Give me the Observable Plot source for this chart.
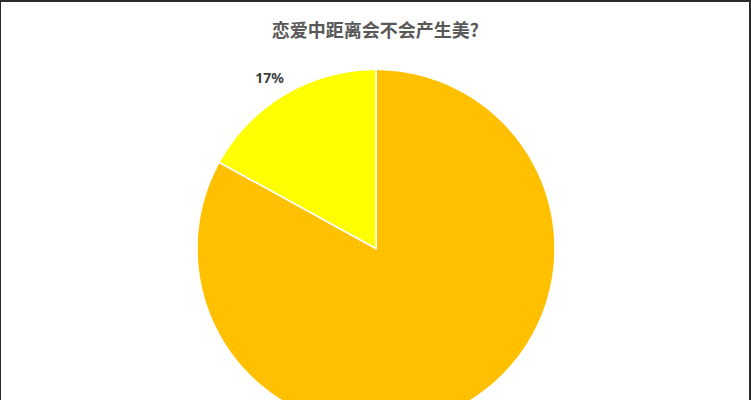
<!DOCTYPE html>
<html>
<head>
<meta charset="utf-8">
<script src="https://cdn.jsdelivr.net/npm/d3@7"></script>
<script src="https://cdn.jsdelivr.net/npm/@observablehq/plot@0.6"></script>
<style>
  html, body { margin: 0; padding: 0; background: #fff; }
  #wrap { position: relative; width: 751px; height: 400px; overflow: hidden; background: #fff;
          font-family: "Noto Sans CJK SC", "Noto Sans", sans-serif; }
  #title { position: absolute; left: 0; top: 0; width: 751px; height: 55px; line-height: 58px;
           text-align: center; font-size: 18px; font-weight: bold; color: #595959; }
  #chart { position: absolute; left: 0; top: 55px; }
  #border { position: absolute; left: 0; top: 0; width: 751px; height: 400px; box-sizing: border-box;
            border-top: 2px solid #2b2b2b; border-left: 1px solid #2b2b2b; border-right: 2px solid #2b2b2b;
            pointer-events: none; }
</style>
</head>
<body>
<div id="wrap">
  <div id="title">恋爱中距离会不会产生美?</div>
  <div id="chart"></div>
  <div id="border"></div>
</div>
<script>
const categories = ["会", "不会"];
const values = [83, 17];
const colors = ["#FFC000", "#FFFF00"];
const labels = ["83%", "17%"];
// only the 17% label is visible in the picture (the other one lies below its lower edge)
const shownLabels = ["17%"];

const pie = d3.pie().sort(null).startAngle(0).endAngle(2 * Math.PI)(values);

// polygon outline of each slice (angle clockwise from 12 o'clock, unit radius)
const rows = [];
pie.forEach((p, i) => {
  const cat = categories[i];
  rows.push({cat, x: 0, y: 0});
  const n = Math.max(8, Math.ceil((p.endAngle - p.startAngle) * 90));
  for (let k = 0; k <= n; k++) {
    const a = p.startAngle + (p.endAngle - p.startAngle) * k / n;
    rows.push({cat, x: Math.sin(a), y: Math.cos(a)});
  }
  rows.push({cat, x: 0, y: 0});
});

const labelRows = pie.map((p, i) => {
  const a = (p.startAngle + p.endAngle) / 2 - 0.026;
  return {text: labels[i], x: 1.12 * Math.sin(a), y: 1.12 * Math.cos(a)};
}).filter(d => shownLabels.includes(d.text));

const R = 179, W = 751, H = 345, cx = 375.5, cy = 193;
const chart = Plot.plot({
  width: W,
  height: H,
  margin: 0,
  x: {domain: [-cx / R, (W - cx) / R], axis: null},
  y: {domain: [-(H - cy) / R, cy / R], axis: null},
  color: {domain: categories, range: colors},
  style: {background: "transparent", overflow: "visible"},
  marks: [
    Plot.line(rows, {x: "x", y: "y", z: "cat", fill: "cat", stroke: "white", strokeWidth: 1.5, curve: "linear"}),
    Plot.text(labelRows, {x: "x", y: "y", text: "text", fontSize: 14, fontWeight: "bold", fill: "#404040",
      fontFamily: "'Noto Sans', 'Noto Sans CJK SC', sans-serif"})
  ]
});
document.getElementById("chart").appendChild(chart);
</script>
</body>
</html>
